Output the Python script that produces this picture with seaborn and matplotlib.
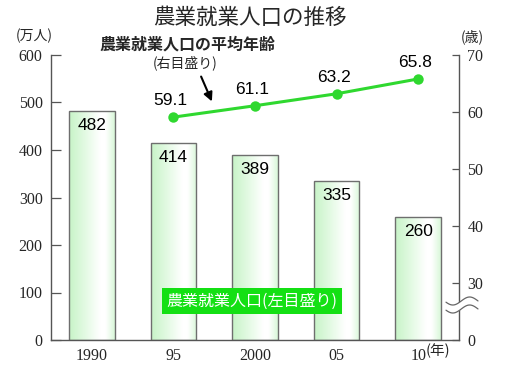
import numpy as np
import pandas as pd
import matplotlib
matplotlib.use("Agg")
import matplotlib.pyplot as plt
import seaborn as sns

# ---- data ----
years = ["1990", "95", "2000", "05", "10"]
workers = [482, 414, 389, 335, 260]          # 万人 (left axis)
age_years = ["95", "2000", "05", "10"]
ages = [59.1, 61.1, 63.2, 65.8]              # 歳 (right axis)
left_ticks = [0, 100, 200, 300, 400, 500, 600]
right_ticks = [30, 40, 50, 60, 70]

W, H = 508, 367
sns.set_style("white")
plt.rcParams['font.family'] = ['Liberation Sans', 'Noto Sans CJK JP']
JP = ['Noto Sans CJK JP', 'Liberation Sans']
SERIF = ['Liberation Serif', 'Noto Sans CJK JP']

fig = plt.figure(figsize=(W / 100, H / 100), dpi=100)
ax = fig.add_axes([51 / W, 1 - 340 / H, (459 - 51) / W, (340 - 55) / H])

def fx(x):
    return x / W

def fy(y):
    return 1 - y / H

df = pd.DataFrame({"year": years, "workers": workers})
sns.barplot(data=df, x="year", y="workers", ax=ax, width=0.56,
            facecolor="none", edgecolor="#6e6e6e", linewidth=1.0, zorder=2)

# gradient fill for bars
cols = np.array([[0.78, 0.955, 0.78], [0.89, 0.98, 0.89], [1, 1, 1], [1, 1, 1], [0.85, 0.97, 0.85]])
pos = np.array([0.0, 0.35, 0.68, 0.8, 1.0])
xs = np.linspace(0, 1, 200)
grad = np.stack([np.interp(xs, pos, cols[:, i]) for i in range(3)], axis=-1)[None, :, :]
for p in list(ax.patches):
    x0, y0 = p.get_x(), p.get_y()
    w, h = p.get_width(), p.get_height()
    im = ax.imshow(grad, extent=[x0, x0 + w, y0, y0 + h], aspect='auto',
                   zorder=1.5, interpolation='bilinear')
    im.set_clip_path(p)
    ax.annotate(f"{int(round(y0 + h))}", (x0 + w / 2, y0 + h), xytext=(0, -7),
                textcoords='offset pixels', ha='center', va='top', fontsize=12.5,
                color='black', zorder=5)

ax.set_xlim(-0.5, 4.5)
ax.set_ylim(0, 600)
ax.set_yticks(left_ticks)
ax.set_yticklabels([str(t) for t in left_ticks], family=SERIF, fontsize=11.5)
ax.set_xticks(range(len(years)))
ax.set_xticklabels(years, family=SERIF, fontsize=11.5)
ax.set_xticks([0.5, 1.5, 2.5, 3.5], minor=True)
ax.tick_params(axis='x', which='major', length=0, pad=6)
ax.tick_params(axis='x', which='minor', length=5, direction='in', color='#555555', width=0.9)
ax.tick_params(axis='y', which='major', length=7, direction='in', color='#555555', width=0.9, pad=6, left=True)
ax.set_xlabel("")
ax.set_ylabel("")
for s in ['left', 'bottom']:
    ax.spines[s].set_color('#555555')
    ax.spines[s].set_linewidth(1.0)
ax.spines['top'].set_visible(False)
ax.spines['right'].set_visible(False)

# right axis: average age
ax2 = ax.twinx()
ldf = pd.DataFrame({"x": [years.index(y) for y in age_years], "age": ages})
sns.lineplot(data=ldf, x="x", y="age", ax=ax2, color="#2fd82f", linewidth=2.2,
             marker='o', markersize=7.5, markeredgewidth=0, zorder=4)
for xv, yv in zip(ldf["x"], ldf["age"]):
    ax2.annotate(f"{yv:.1f}", (xv, yv), xytext=(-3, 9), textcoords='offset pixels',
                 ha='center', va='bottom', fontsize=12.5, color='black')
ax2.set_ylim(20, 70)
ax2.set_xlim(-0.5, 4.5)
ax2.set_yticks([20] + right_ticks)
ax2.set_yticklabels(["0"] + [str(t) for t in right_ticks], family=SERIF, fontsize=11.5)
ax2.tick_params(axis='y', which='major', length=5, direction='in', color='#555555', width=0.9, pad=6, right=True)
ax2.set_xlabel("")
ax2.set_ylabel("")
for s in ['top', 'left', 'bottom']:
    ax2.spines[s].set_visible(False)
ax2.spines['right'].set_color('#555555')
ax2.spines['right'].set_linewidth(1.0)

# axis break marks on right axis
bx = np.linspace(446, 478, 60)
wave = 4 * np.sin((bx - 446) / 32 * 2 * np.pi * 0.95 + 0.3)
ytop = 301 + wave
ybot = 309 + wave
fig.patches.append(plt.Polygon(np.column_stack([np.r_[fx(bx), fx(bx[::-1])],
                                                np.r_[fy(ytop), fy(ybot[::-1])]]),
                               closed=True, facecolor='white', edgecolor='none',
                               transform=fig.transFigure, zorder=10))
for yy in (ytop, ybot):
    fig.add_artist(plt.Line2D(fx(bx), fy(yy), color='#666666', lw=0.9,
                              transform=fig.transFigure, zorder=11))

# texts
fig.text(fx(250), fy(18), "農業就業人口の推移", family=JP, fontsize=15.5,
         ha='center', va='center')
fig.text(fx(187), fy(45), "農業就業人口の平均年齢", family=JP, fontsize=11.5,
         fontweight='bold', ha='center', va='center')
fig.text(fx(185), fy(63), "(右目盛り)", family=JP, fontsize=10, ha='center', va='center')
fig.text(fx(34), fy(36), "(万人)", family=JP, fontsize=10, ha='center', va='center')
fig.text(fx(472), fy(37), "(歳)", family=JP, fontsize=10, ha='center', va='center')
fig.text(fx(426), fy(351), "(年)", family=JP, fontsize=10.5, ha='left', va='center')
fig.text(fx(252), fy(301), "農業就業人口(左目盛り)", family=JP, fontsize=11.5, color='white',
         ha='center', va='center', zorder=12,
         bbox=dict(boxstyle='square,pad=0.3', facecolor='#14e014', edgecolor='none'))

arr = matplotlib.patches.FancyArrowPatch((fx(200), fy(74)), (fx(213), fy(104)),
                                         transform=fig.transFigure, arrowstyle='-|>',
                                         mutation_scale=13, color='black', lw=1.5, zorder=12)
fig.patches.append(arr)

fig.savefig("out.png", dpi=100)
